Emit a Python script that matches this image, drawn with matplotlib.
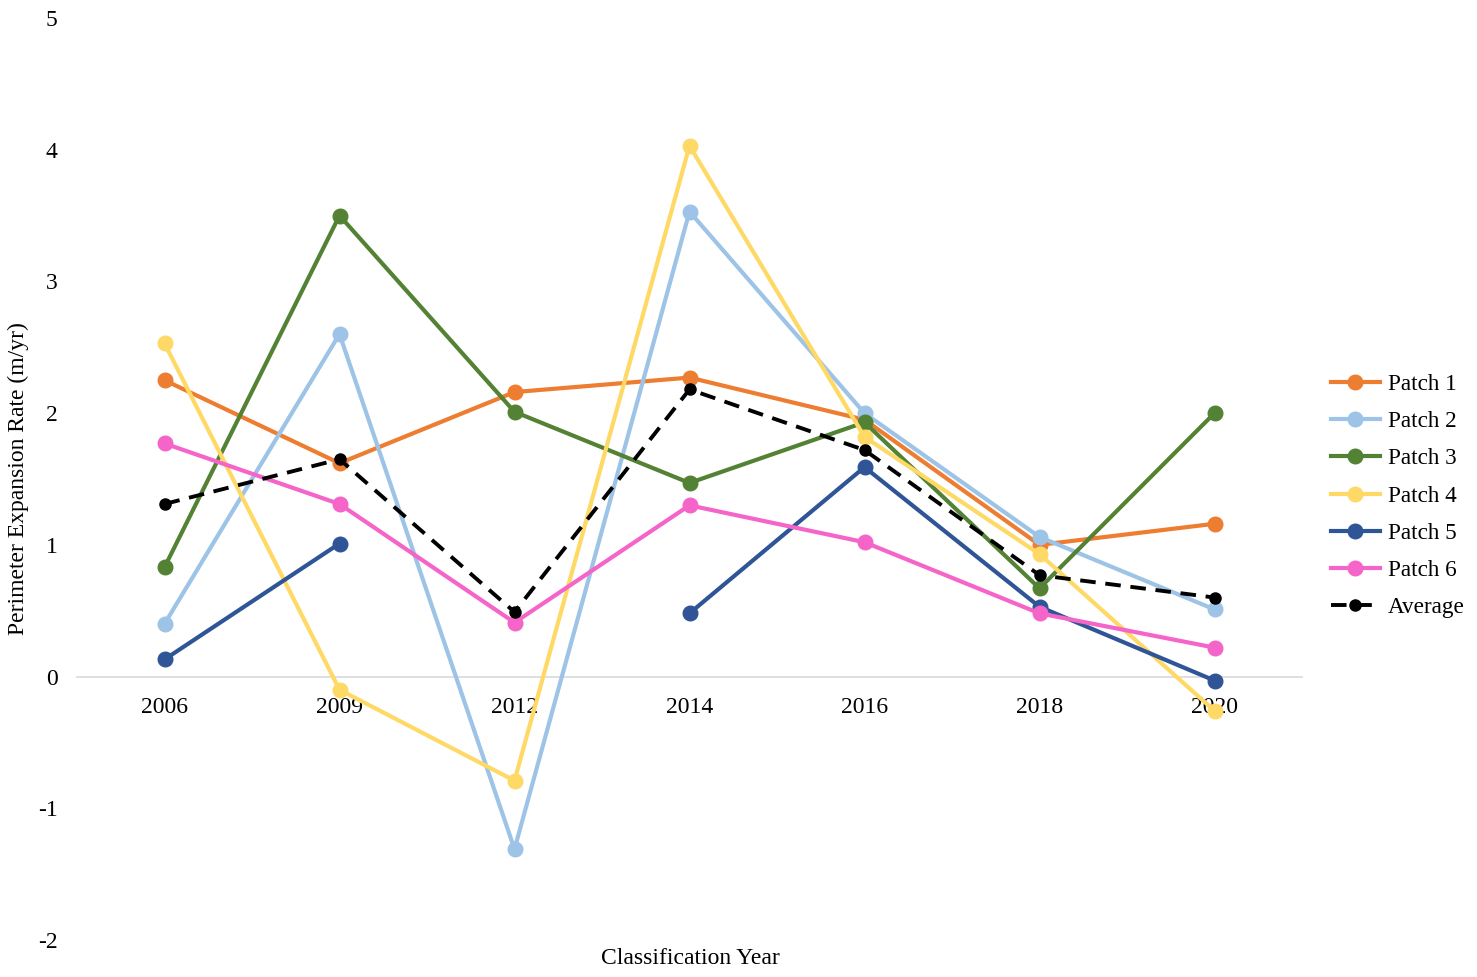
import numpy as np
import matplotlib
matplotlib.use("Agg")
import matplotlib.pyplot as plt

plt.rcParams['font.family'] = ['Liberation Serif', 'DejaVu Serif']

years = ["2006", "2009", "2012", "2014", "2016", "2018", "2020"]
patch1 = [2.25, 1.62, 2.16, 2.27, 1.95, 1.00, 1.16]
patch2 = [0.40, 2.60, -1.31, 3.53, 2.00, 1.06, 0.51]
patch3 = [0.83, 3.50, 2.01, 1.47, 1.93, 0.67, 2.00]
patch4 = [2.53, -0.10, -0.79, 4.03, 1.82, 0.93, -0.26]
patch5 = [0.13, 1.01, np.nan, 0.48, 1.59, 0.53, -0.03]
patch6 = [1.77, 1.31, 0.41, 1.30, 1.02, 0.48, 0.22]
average = [1.31, 1.65, 0.49, 2.18, 1.72, 0.77, 0.60]

series = [
    ("Patch 1", patch1, "#ED7D31"),
    ("Patch 2", patch2, "#9DC3E6"),
    ("Patch 3", patch3, "#548235"),
    ("Patch 4", patch4, "#FFD966"),
    ("Patch 5", patch5, "#2F5597"),
    ("Patch 6", patch6, "#F564C8"),
]

fig = plt.figure(figsize=(14.77, 9.77), dpi=100)
ax = fig.add_axes([77/1477, 1-940/977, 1225/1477, 922/977])

x = np.arange(len(years))
for name, vals, col in series:
    ax.plot(x, vals, color=col, lw=3.0, marker='o', markersize=10.5, label=name)
ax.plot(x, average, color='black', lw=2.8, ls=(0, (4, 2.5)), marker='o', markersize=8, label="Average")

ax.set_xlim(-0.5, 6.5)
ax.set_ylim(-2, 5)
ax.set_yticks(range(-2, 6))
ax.set_yticklabels([str(v) for v in range(-2, 6)])
ax.set_xticks(x)
ax.set_xticklabels(years)

for s in ['top', 'right', 'left']:
    ax.spines[s].set_visible(False)
ax.spines['bottom'].set_position(('data', 0))
ax.spines['bottom'].set_color('#d9d9d9')
ax.spines['bottom'].set_linewidth(1.2)
ax.spines['bottom'].set_zorder(0)
ax.tick_params(axis='x', length=0, pad=15, labelsize=17)
ax.tick_params(axis='y', length=0, pad=14, labelsize=17)

fig.text(18/1477, 1-479/977, "Perimeter Expansion Rate (m/yr)", rotation=90,
         ha='center', va='center', fontsize=17)
fig.text(690/1477, 1-958/977, "Classification Year", ha='center', va='center', fontsize=17)

leg = fig.legend(loc='center left', bbox_to_anchor=(1331/1477, 1-496/977), frameon=False,
                 fontsize=16.7, handlelength=2.1, handletextpad=0.35, labelspacing=0.69,
                 borderaxespad=0, borderpad=0)

fig.savefig("out.png", dpi=100)
